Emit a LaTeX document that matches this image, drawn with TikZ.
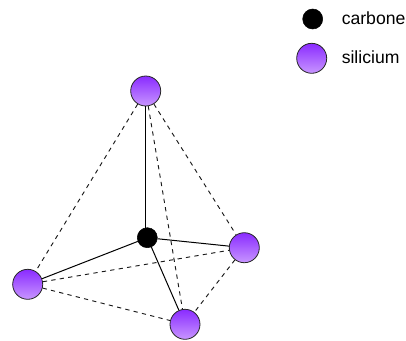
\documentclass[tikz,border=0pt]{standalone}
\usepackage{fontspec}
\setmainfont{Liberation Sans}
\usepackage{tikz}
\usepackage{xcolor}
\definecolor{sitop}{HTML}{8A2BFF}
\definecolor{sibot}{HTML}{C896FF}
\tikzset{
  silicium/.style={circle, draw=black!85, line width=0.6pt, minimum size=22.5pt, inner sep=0pt,
    top color=sitop, bottom color=sibot},
  carbone/.style={circle, fill=black, draw=black, minimum size=15pt, inner sep=0pt},
  legend/.style={anchor=west, inner sep=0pt, font=\fontsize{13.2pt}{15pt}\selectfont},
  bond/.style={line width=0.75pt},
  edge/.style={line width=0.7pt, dash pattern=on 3.2pt off 3.2pt, black!90}
}
\begin{document}
\begin{tikzpicture}[x=0.75pt, y=-0.75pt]
\useasboundingbox (0,0) rectangle (406,340);

\node[carbone] (c) at (147.3,237.7){};

\node[silicium] (si_t) at (145.7,91){};
\node[silicium] (si_l) at (27.7,284.3){};
\node[silicium] (si_r) at (244.3,247.7){};
\node[silicium] (si_b) at (185,324.3){};

\draw[bond] (si_t)--(si_t |- c);
\draw[bond] (c)--(si_l);
\draw[bond] (c)--(si_r);
\draw[bond] (c)--(si_b);

\draw[edge] (si_t)--(si_l);
\draw[edge] (si_t)--(si_r);
\draw[edge] (si_t)--(si_b);
\draw[edge] (si_l)--(si_r);
\draw[edge] (si_l)--(si_b);
\draw[edge] (si_r)--(si_b);

% legend
\node[carbone] (c_leg) at (312.7,19){};
\node[legend] (c_txt) at (341.5,18){carbone};

\node[silicium] (si_leg) at (311.7,58.3){};
\node[legend] (si_txt) at (341.5,57.5){silicium};
\end{tikzpicture}
\end{document}
